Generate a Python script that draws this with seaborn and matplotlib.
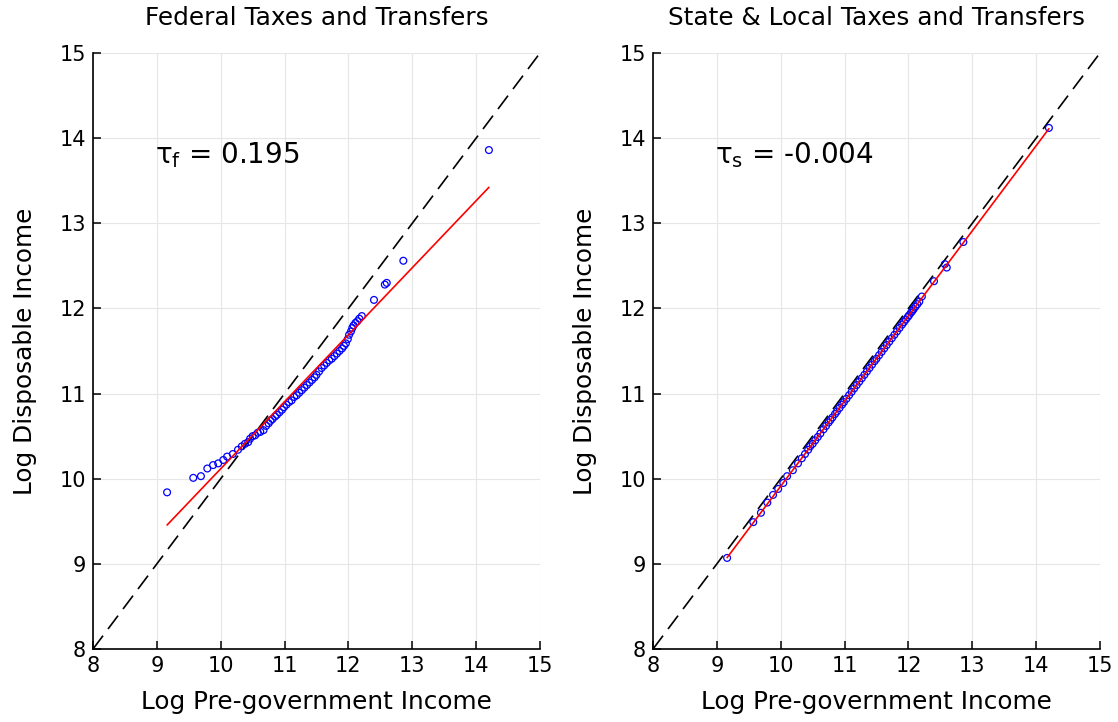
import numpy as np
import pandas as pd
import seaborn as sns
import matplotlib
matplotlib.use('Agg')
import matplotlib.pyplot as plt

# log pre-government income (shared by both panels)
pre_income = [9.16, 9.57, 9.69, 9.79, 9.88, 9.96, 10.04, 10.10, 10.19, 10.27,
              10.33, 10.38, 10.43, 10.46, 10.50, 10.54, 10.58, 10.62, 10.67, 10.71,
              10.75, 10.78, 10.81, 10.85, 10.88, 10.92, 10.96, 10.99, 11.03, 11.07,
              11.11, 11.15, 11.19, 11.23, 11.27, 11.31, 11.35, 11.39, 11.43, 11.47,
              11.50, 11.54, 11.58, 11.62, 11.66, 11.70, 11.74, 11.78, 11.82, 11.86,
              11.90, 11.93, 11.96, 11.99, 12.01, 12.04, 12.06, 12.08, 12.11, 12.14,
              12.17, 12.21, 12.40, 12.57, 12.60, 12.86, 14.20]

# log disposable income after federal taxes and transfers
fed_disp = [9.84, 10.01, 10.03, 10.12, 10.16, 10.18, 10.22, 10.26, 10.29, 10.34,
            10.38, 10.41, 10.43, 10.47, 10.50, 10.51, 10.54, 10.55, 10.57, 10.62,
            10.65, 10.68, 10.70, 10.73, 10.75, 10.78, 10.81, 10.84, 10.87, 10.90,
            10.92, 10.96, 10.98, 11.01, 11.04, 11.07, 11.10, 11.13, 11.16, 11.19,
            11.22, 11.26, 11.30, 11.33, 11.36, 11.39, 11.41, 11.44, 11.47, 11.50,
            11.53, 11.56, 11.59, 11.64, 11.69, 11.73, 11.77, 11.80, 11.83, 11.85,
            11.88, 11.91, 12.10, 12.28, 12.30, 12.56, 13.86]

# log disposable income after state & local taxes and transfers
state_disp = [9.07, 9.49, 9.60, 9.72, 9.81, 9.88, 9.95, 10.03, 10.10, 10.18,
              10.24, 10.29, 10.34, 10.38, 10.41, 10.45, 10.49, 10.53, 10.58, 10.62,
              10.66, 10.69, 10.72, 10.76, 10.79, 10.83, 10.87, 10.90, 10.94, 10.98,
              11.02, 11.06, 11.10, 11.14, 11.18, 11.22, 11.26, 11.30, 11.34, 11.38,
              11.41, 11.45, 11.49, 11.53, 11.57, 11.61, 11.65, 11.69, 11.73, 11.77,
              11.81, 11.84, 11.87, 11.90, 11.92, 11.95, 11.97, 11.99, 12.02, 12.05,
              12.08, 12.14, 12.32, 12.52, 12.48, 12.78, 14.12]

diag = [8, 15]
titles = ['Federal Taxes and Transfers', 'State & Local Taxes and Transfers']
tau_labels = [r'τ$_\mathregular{f}$ = 0.195', r'τ$_\mathregular{s}$ = -0.004']
ticks = [8, 9, 10, 11, 12, 13, 14, 15]

sns.set_theme(style='ticks')
plt.rcParams['font.family'] = ['DejaVu Sans']
plt.rcParams['text.color'] = 'black'
plt.rcParams['axes.labelcolor'] = 'black'

fig = plt.figure(figsize=(11.18, 7.22), dpi=100)
ax1 = fig.add_axes([0.0832, 0.1011, 0.3998, 0.8255])
ax2 = fig.add_axes([0.5841, 0.1011, 0.3998, 0.8255])

panels = [(ax1, fed_disp), (ax2, state_disp)]
for i, (ax, disp) in enumerate(panels):
    df = pd.DataFrame({'pre': pre_income, 'disp': disp})
    ax.grid(True, color='#e6e6e6', linewidth=0.8, zorder=0)
    sns.lineplot(x=diag, y=diag, ax=ax, color='black', linewidth=1.2,
                 zorder=2).lines[-1].set_dashes([10, 5])
    sns.scatterplot(data=df, x='pre', y='disp', ax=ax, marker='o', s=24,
                    facecolors='none', edgecolor='blue', linewidth=0.9, zorder=3)
    sns.regplot(data=df, x='pre', y='disp', ax=ax, scatter=False, ci=None,
                truncate=True, line_kws={'color': 'red', 'linewidth': 1.2, 'zorder': 4})
    ax.set_xlim(8, 15)
    ax.set_ylim(8, 15)
    ax.set_xticks(ticks)
    ax.set_yticks(ticks)
    ax.tick_params(direction='in', length=6, width=1.1, labelsize=15, pad=5,
                   colors='black')
    for side in ['top', 'right']:
        ax.spines[side].set_visible(False)
    for side in ['left', 'bottom']:
        ax.spines[side].set_linewidth(1.2)
        ax.spines[side].set_color('black')
    ax.set_title(titles[i], fontsize=17.8, pad=20)
    ax.set_xlabel('Log Pre-government Income', fontsize=17.8, labelpad=10)
    ax.set_ylabel('Log Disposable Income', fontsize=17.8, labelpad=16)
    ax.text(8.97, 13.8, tau_labels[i], fontsize=20, ha='left', va='center')

fig.savefig('out.png', dpi=100)
